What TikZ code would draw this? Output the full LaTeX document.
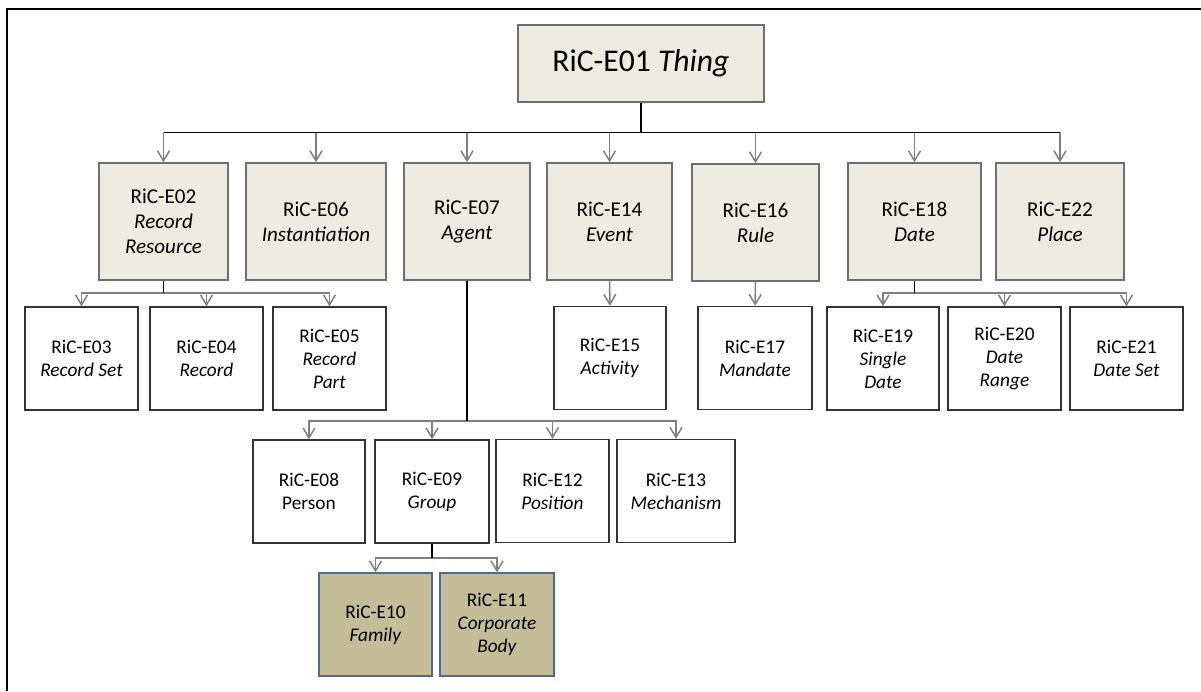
\documentclass[tikz,border=0pt]{standalone}
\usepackage{fontspec}
\setmainfont{Carlito}
\usetikzlibrary{arrows.meta}

\definecolor{tanlight}{HTML}{EEECE1}
\definecolor{tandark}{HTML}{C4BD97}
\definecolor{boxline}{HTML}{6E6E6E}
\definecolor{blueline}{HTML}{4F6B8C}
\definecolor{linkgray}{HTML}{7F7F7F}

\tikzset{
    topbox/.style={draw=boxline, line width=0.9pt, fill=tanlight, align=center,
        minimum width=4.92cm, minimum height=1.54cm, font=\fontsize{18}{21}\selectfont},
    classbox/.style={draw=boxline, line width=0.9pt, fill=tanlight, align=center,
        minimum height=2.34cm, inner sep=1pt, font=\fontsize{12}{14.2}\selectfont},
    subbox/.style={draw=black!80, line width=0.8pt, fill=white, align=center,
        minimum height=2.06cm, inner sep=1pt, font=\fontsize{11}{13.1}\selectfont},
    groupbox/.style={subbox, draw=blueline, fill=tandark},
    trunk/.style={line width=1.1pt, black},
    branch/.style={line width=0.85pt, linkgray, -{Straight Barb[length=2mm,width=2.4mm]}}
}

\begin{document}
\begin{tikzpicture}[x=0.02cm, y=-0.02cm]
    % Page and frame
    \useasboundingbox (0,0) rectangle (1201,691);
    \draw[line width=0.7pt] (7,691) -- (7,9) -- (1201,9);

    % Top class
    \node[topbox] (e01) at (641,63.5) {RiC-E01 \textit{Thing}};

    % Second level
    \node[classbox, minimum width=2.58cm] (e02) at (163.5,221.5) {RiC-E02\\\textit{Record}\\\textit{Resource}};
    \node[classbox, minimum width=2.80cm] (e06) at (316,221.5) {RiC-E06\\\textit{Instantiation}};
    \node[classbox, minimum width=2.52cm] (e07) at (467,221.5) {RiC-E07\\\textit{Agent}};
    \node[classbox, minimum width=2.50cm] (e14) at (609.5,221.5) {RiC-E14\\\textit{Event}};
    \node[classbox, minimum width=2.54cm] (e16) at (755.5,222.5) {RiC-E16\\\textit{Rule}};
    \node[classbox, minimum width=2.66cm] (e18) at (914.5,221.5) {RiC-E18\\\textit{Date}};
    \node[classbox, minimum width=2.56cm] (e22) at (1060,221.5) {RiC-E22\\\textit{Place}};

    % Third level
    \node[subbox, minimum width=2.26cm] (e03) at (81.5,358.5) {RiC-E03\\\textit{Record Set}};
    \node[subbox, minimum width=2.26cm] (e04) at (206.5,358.5) {RiC-E04\\\textit{Record}};
    \node[subbox, minimum width=2.26cm] (e05) at (329.5,358.5) {RiC-E05\\\textit{Record}\\\textit{Part}};
    \node[subbox, minimum width=2.24cm] (e15) at (610,358) {RiC-E15\\\textit{Activity}};
    \node[subbox, minimum width=2.28cm] (e17) at (755,358) {RiC-E17\\\textit{Mandate}};
    \node[subbox, minimum width=2.24cm] (e19) at (883,358.5) {RiC-E19\\\textit{Single}\\\textit{Date}};
    \node[subbox, minimum width=2.26cm] (e20) at (1004.5,358.5) {RiC-E20\\\textit{Date}\\\textit{Range}};
    \node[subbox, minimum width=2.26cm] (e21) at (1126.5,358.5) {RiC-E21\\\textit{Date Set}};

    % Agents
    \node[subbox, minimum width=2.24cm] (e08) at (309,491.5) {RiC-E08\\Person};
    \node[subbox, minimum width=2.28cm] (e09) at (432,491.5) {RiC-E09\\\textit{Group}};
    \node[subbox, minimum width=2.26cm] (e12) at (552.5,491) {RiC-E12\\\textit{Position}};
    \node[subbox, minimum width=2.36cm] (e13) at (676,491) {RiC-E13\\\textit{Mechanism}};

    % Groups
    \node[groupbox, minimum width=2.26cm] (e10) at (375.5,624.5) {RiC-E10\\\textit{Family}};
    \node[groupbox, minimum width=2.28cm] (e11) at (497,624.5) {RiC-E11\\\textit{Corporate}\\\textit{Body}};

    % Buses
    \coordinate (bus01) at (641,132.5);
    \coordinate (bus02) at (163.5,293);
    \coordinate (bus18) at (914.5,293);
    \coordinate (bus07) at (467,421);
    \coordinate (bus09) at (432,558);

    % Links
    \foreach \c in {e02,e06,e07,e14,e16,e18,e22}
        \draw[branch] (bus01) -| (\c.north);
    \foreach \c in {e03,e04,e05}
        \draw[branch] (bus02) -| (\c.north);
    \foreach \c in {e19,e20,e21}
        \draw[branch] (bus18) -| (\c.north);
    \foreach \c in {e08,e09,e12,e13}
        \draw[branch] (bus07) -| (\c.north);
    \foreach \c in {e10,e11}
        \draw[branch] (bus09) -| (\c.north);
    \draw[branch] (e14.south) -- (e15.north);
    \draw[branch] (e16.south) -- (e17.north);

    % Trunks
    \draw[trunk] (e01.south) -- (bus01);
    \draw[trunk] (e02.north |- bus01) -- (e22.north |- bus01);
    \draw[trunk] (e02.south) -- (bus02);
    \draw[trunk] (e18.south) -- (bus18);
    \draw[trunk] (e07.south) -- (bus07);
    \draw[trunk] (e09.south) -- (bus09);
\end{tikzpicture}
\end{document}
